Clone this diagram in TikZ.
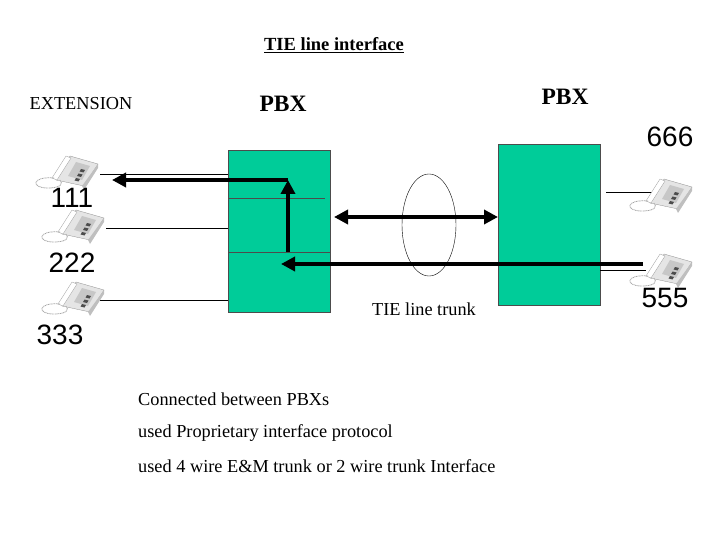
\documentclass[tikz,border=0pt]{standalone}
\usepackage{fontspec}
\newfontfamily\sansfont{Liberation Sans}
\setmainfont{Liberation Serif}
\usetikzlibrary{arrows.meta,calc}
\definecolor{pbxgreen}{RGB}{0,204,153}
\tikzset{
  pbx/.style={draw=black!70,fill=pbxgreen},
  wire/.style={draw,line width=0.6pt},
  bigarrow/.style={line width=4pt,-{Triangle[length=14pt,width=14pt]}},
  num/.style={font=\sansfont\fontsize{28}{28}\selectfont,inner sep=0pt},
  txt/.style={font=\fontsize{18.3}{18.3}\selectfont,inner sep=0pt},
  title/.style={font=\bfseries\fontsize{23.5}{23.5}\selectfont,inner sep=0pt},
  phone/.pic={
    \fill[black!10,draw=black!45,line width=0.3pt] (-6,8) -- (8,-16) -- (36,-8) -- (22,14) -- cycle;
    \fill[black!25] (20,14) -- (36,-8) -- (36,-4) -- (22,18) -- cycle;
    \fill[black!22] (6,4) -- (14,-10) -- (28,-6) -- (20,8) -- cycle;
    \foreach \k in {0,1,2} \fill[black!70] ($(19,-3)+(-2.5*\k,4.5*\k)$) -- ++(4,1) -- ++(-1.5,2.5) -- ++(-4,-1) -- cycle;
    \fill[white,draw=black!40,line width=0.3pt] (-10,6) -- (4,-16) -- (9,-14) -- (-5,8) -- cycle;
    \draw[black!35,line width=0.8pt,dash pattern=on 1pt off 0.6pt] (-8,6) .. controls (-30,4) and (-32,16) .. (-14,16) .. controls (-2,16) and (2,12) .. (-2,8);
  }
}
\begin{document}
\begin{tikzpicture}[x=1pt,y=1pt,yscale=-1]
\useasboundingbox (0,0) rectangle (720,540);

% PBX boxes
\path[pbx] (228,150) rectangle (330,312);
\draw[black!70,line width=0.4pt] (228,198) -- (325,198);
\draw[black!70,line width=0.4pt] (228,252) -- (330,252);
\path[pbx] (498,144) rectangle (600,305);

% extension wires
\draw[wire] (100,174) -- (228,174);
\draw[wire] (106,228) -- (228,228);
\draw[wire] (100,300) -- (228,300);
\draw[wire] (606,192) -- (652,192);
\draw[wire] (600,270) -- (646,270);

% phones
\path (62,172) pic[yscale=-1] {phone};
\path (68,226) pic[yscale=-1] {phone};
\path (68,298) pic[yscale=-1] {phone};
\path (656,195) pic[yscale=-1] {phone};
\path (656,270) pic[yscale=-1] {phone};

% trunk ellipse
\draw[line width=0.4pt] (429,225) ellipse [x radius=27,y radius=51];

% call path arrows
\coordinate (up0) at (288,252);
\coordinate (up1) at (288,180);
\coordinate (ext1) at (112,180);
\coordinate (trkL) at (334,217);
\coordinate (trkR) at (498,217);
\coordinate (ret0) at (643,264);
\coordinate (ret1) at (281,264);
\draw[bigarrow] (up0) -- (up1);
\draw[bigarrow] (up1) -- (ext1);
\draw[bigarrow,{Triangle[length=14pt,width=14pt]}-{Triangle[length=14pt,width=14pt]}] (trkL) -- (trkR);
\draw[bigarrow] (ret0) -- (ret1);

% labels
\node[font=\bfseries\fontsize{18.5}{18.5}\selectfont,inner sep=0pt] (ttl) at (334,45) {\underline{TIE line interface}};
\node[txt] (ext) at (81,104) {EXTENSION};
\node[title] (pbxl) at (283,104) {PBX};
\node[title] (pbxr) at (565,97) {PBX};
\node[num] (n666) at (670,137) {666};
\node[num] (n111) at (72,198) {111};
\node[num] (n222) at (72,263) {222};
\node[num] (n333) at (60,335) {333};
\node[num] (n555) at (665,298) {555};
\node[txt] (trunk) at (424,309) {TIE line trunk};
\node[txt,anchor=west] (l1) at (138,399) {Connected between PBXs};
\node[txt,anchor=west] (l2) at (138,433) {used Proprietary interface protocol};
\node[txt,anchor=west] (l3) at (138,466) {used 4 wire E\&M trunk or 2 wire trunk Interface};
\end{tikzpicture}
\end{document}
